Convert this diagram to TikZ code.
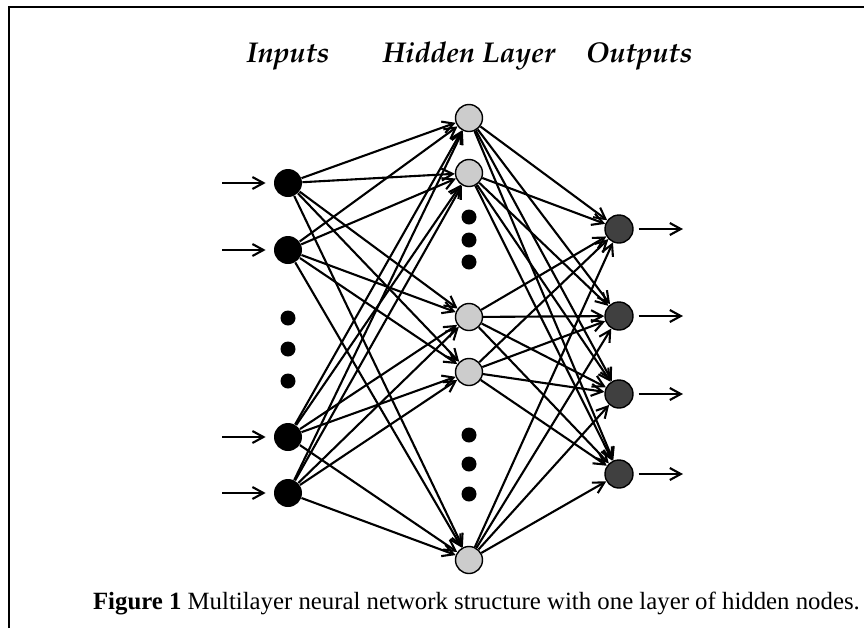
\documentclass[tikz,border=0pt]{standalone}
\usepackage[T1]{fontenc}
\usepackage{fontspec}
\setmainfont{Liberation Serif}
\usetikzlibrary{arrows.meta}

\begin{document}
\begin{tikzpicture}[x=0.5pt,y=-0.5pt,
  conn/.style={line width=1.05pt,-{Straight Barb[length=5.5pt,width=6pt]}},
  inode/.style={circle,fill=black,minimum size=14pt,inner sep=0pt},
  hnode/.style={circle,draw,line width=0.7pt,fill=black!20,minimum size=13.5pt,inner sep=0pt},
  onode/.style={circle,draw,line width=0.7pt,fill=black!75,minimum size=14pt,inner sep=0pt},
  ddot/.style={circle,fill=black,minimum size=7.5pt,inner sep=0pt},
  head/.style={anchor=base,font=\fontencoding{T1}\fontfamily{ppl}\fontseries{b}\fontshape{it}\fontsize{14.3}{16}\selectfont}]
  \useasboundingbox (0,0) rectangle (864,628);
  % Frame
  \draw[line width=1.4pt] (9,628) -- (9,7) -- (864,7);
  % Layer titles
  \node[head] (tin) at (288,62) {Inputs};
  \node[head] (thid) at (469,62) {Hidden Layer};
  \node[head] (tout) at (639,62) {Outputs};
  % Input layer
  \foreach \i/\y in {1/183, 2/250, 3/437, 4/493} {
    \node[inode] (in\i) at (288,\y) {};
    \coordinate (src\i) at (222,\y);
    \draw[conn,shorten >=4pt] (src\i) -- (in\i);
  }
  \foreach \i/\y in {1/318, 2/349, 3/381} {
    \node[ddot] (idot\i) at (288,\y) {};
  }
  % Hidden layer
  \foreach \i/\y in {1/118, 2/173, 3/317, 4/372, 5/560} {
    \node[hnode] (hid\i) at (469,\y) {};
  }
  \foreach \i/\y in {1/217, 2/240, 3/262, 4/435, 5/464, 6/494} {
    \node[ddot] (hdot\i) at (469,\y) {};
  }
  % Output layer
  \foreach \i/\y in {1/229, 2/316, 3/394, 4/474} {
    \node[onode] (out\i) at (619,\y) {};
    \coordinate (dst\i) at (683,\y);
    \draw[conn,shorten <=2.5pt] (out\i) -- (dst\i);
  }
  % Connections
  \foreach \i in {1,...,4} {
    \foreach \j in {1,...,5} {
      \draw[conn] (in\i) -- (hid\j);
    }
  }
  \foreach \j in {1,...,5} {
    \foreach \k in {1,...,4} {
      \draw[conn] (hid\j) -- (out\k);
    }
  }
  % Caption
  \node[anchor=base west,font=\fontsize{12.4}{15}\selectfont] (cap) at (86,609)
    {\textbf{Figure 1} Multilayer neural network structure with one layer of hidden nodes.};
\end{tikzpicture}
\end{document}
